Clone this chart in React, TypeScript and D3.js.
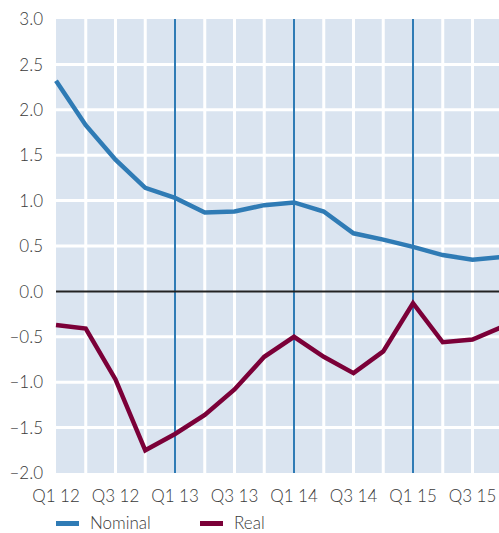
import React, { useEffect, useRef } from "react";
import * as d3 from "d3";

const quarters = [
  "Q1 12", "Q2 12", "Q3 12", "Q4 12",
  "Q1 13", "Q2 13", "Q3 13", "Q4 13",
  "Q1 14", "Q2 14", "Q3 14", "Q4 14",
  "Q1 15", "Q2 15", "Q3 15", "Q4 15",
];
const nominal = [2.32, 1.83, 1.45, 1.14, 1.03, 0.87, 0.88, 0.95, 0.98, 0.88, 0.64, 0.57, 0.49, 0.4, 0.35, 0.38];
const real = [-0.37, -0.41, -0.97, -1.75, -1.57, -1.36, -1.08, -0.72, -0.5, -0.72, -0.9, -0.66, -0.13, -0.56, -0.53, -0.39];
const yTicks = [-2, -1.5, -1, -0.5, 0, 0.5, 1, 1.5, 2, 2.5, 3];
const xLabels = ["Q1 12", "Q3 12", "Q1 13", "Q3 13", "Q1 14", "Q3 14", "Q1 15", "Q3 15"];
const yearStarts = ["Q1 13", "Q1 14", "Q1 15"];

const series = [
  { name: "Nominal", values: nominal, color: "#2f7bb5" },
  { name: "Real", values: real, color: "#7b0038" },
];

const App = () => {
  const svgRef = useRef<SVGSVGElement>(null);

  useEffect(() => {
    const width = 499;
    const height = 533;
    const font = "Lato, 'Open Sans', sans-serif";

    const svg = d3.select(svgRef.current);
    svg.selectAll("*").remove();
    svg.attr("width", width).attr("height", height);

    const step = 29.75;
    const x = d3
      .scalePoint<string>()
      .domain(quarters)
      .range([56, 56 + step * (quarters.length - 1)]);

    const y = d3.scaleLinear().domain([-2, 3]).range([473, 19]);

    // plot background
    svg
      .append("rect")
      .attr("x", 56)
      .attr("y", y(3))
      .attr("width", width - 56)
      .attr("height", y(-2) - y(3))
      .attr("fill", "#dae4f0");

    // grid
    svg
      .append("g")
      .selectAll("line")
      .data(yTicks.filter((d) => d !== 0 && d !== -2 && d !== 3))
      .enter()
      .append("line")
      .attr("x1", 56)
      .attr("x2", width)
      .attr("y1", (d) => y(d))
      .attr("y2", (d) => y(d))
      .attr("stroke", "#fff")
      .attr("stroke-width", 3);

    svg
      .append("g")
      .selectAll("line")
      .data(quarters.slice(1).filter((q) => !yearStarts.includes(q)))
      .enter()
      .append("line")
      .attr("x1", (d) => x(d)!)
      .attr("x2", (d) => x(d)!)
      .attr("y1", y(3))
      .attr("y2", y(-2))
      .attr("stroke", "#fff")
      .attr("stroke-width", 3);

    svg
      .append("g")
      .selectAll("line")
      .data(yearStarts)
      .enter()
      .append("line")
      .attr("x1", (d) => x(d)!)
      .attr("x2", (d) => x(d)!)
      .attr("y1", y(3))
      .attr("y2", y(-2))
      .attr("stroke", "#2f7bb5")
      .attr("stroke-width", 2);

    // zero line
    svg
      .append("line")
      .attr("x1", 56)
      .attr("x2", width)
      .attr("y1", y(0))
      .attr("y2", y(0))
      .attr("stroke", "#222")
      .attr("stroke-width", 2);

    // lines
    const line = d3
      .line<number>()
      .x((d, i) => x(quarters[i])!)
      .y((d) => y(d));

    series.forEach((s) => {
      svg
        .append("path")
        .datum(s.values)
        .attr("d", line)
        .attr("fill", "none")
        .attr("stroke", s.color)
        .attr("stroke-width", 4.5)
        .attr("stroke-linejoin", "miter");
    });

    // y labels
    svg
      .append("g")
      .selectAll("text")
      .data(yTicks)
      .enter()
      .append("text")
      .attr("x", 43)
      .attr("y", (d) => y(d))
      .attr("dy", "0.36em")
      .attr("text-anchor", "end")
      .attr("font-family", font)
      .attr("font-weight", 300)
      .attr("font-size", 17)
      .attr("fill", "#3a3a3a")
      .text((d) => d3.format(".1f")(d).replace("−", "–").replace("-", "–"));

    // x labels
    svg
      .append("g")
      .selectAll("text")
      .data(xLabels)
      .enter()
      .append("text")
      .attr("x", (d) => x(d)!)
      .attr("y", 502)
      .attr("text-anchor", "middle")
      .attr("font-family", font)
      .attr("font-weight", 300)
      .attr("font-size", 17)
      .attr("fill", "#3a3a3a")
      .text((d) => d);

    // legend
    const legend = svg
      .append("g")
      .selectAll("g")
      .data(series)
      .enter()
      .append("g")
      .attr("transform", (d, i) => `translate(${56 + i * 144},521)`);

    legend
      .append("rect")
      .attr("x", 0)
      .attr("y", 0)
      .attr("width", 23)
      .attr("height", 5)
      .attr("fill", (d) => d.color);

    legend
      .append("text")
      .attr("x", 34)
      .attr("y", 8)
      .attr("font-family", font)
      .attr("font-weight", 300)
      .attr("font-size", 17)
      .attr("fill", "#3a3a3a")
      .text((d) => d.name);
  }, []);

  return (
    <svg
      ref={svgRef}
      style={{ position: "absolute", left: 0, top: 0, display: "block" }}
    ></svg>
  );
};

export default App;
